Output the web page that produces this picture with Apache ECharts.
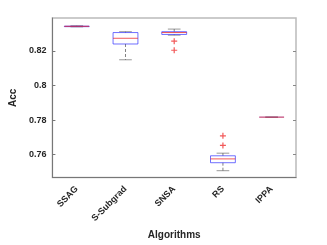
<!DOCTYPE html>
<html>
<head>
<meta charset="utf-8">
<script src="https://cdn.jsdelivr.net/npm/echarts@6/dist/echarts.min.js"></script>
<style>html,body{margin:0;padding:0;background:#fff}#c{width:327px;height:245px}</style>
</head>
<body>
<div id="c"></div>
<script>
var categories = ['SSAG', 'S-Subgrad', 'SNSA', 'RS', 'IPPA'];
var lowerWhisker = [0.8338, 0.8148, 0.8290, 0.7508, 0.7817];
var q1Values = [0.8339, 0.8239, 0.8294, 0.7554, 0.7817];
var medianValues = [0.8341, 0.8272, 0.8305, 0.7576, 0.7817];
var q3Values = [0.8342, 0.8305, 0.8310, 0.7594, 0.7817];
var upperWhisker = [0.8344, 0.8310, 0.8325, 0.7609, 0.7817];
var outlierCats = [2, 2, 3, 3];
var outlierValues = [0.8255, 0.8203, 0.7709, 0.7654];
var yTicks = [0.76, 0.78, 0.80, 0.82];
var yMin = 0.7468, yMax = 0.8389;

var boxData = categories.map(function (c, i) {
  return [i, lowerWhisker[i], q1Values[i], medianValues[i], q3Values[i], upperWhisker[i]];
});
var outlierData = outlierCats.map(function (c, i) { return [c, outlierValues[i]]; });

var FONT = 'Liberation Sans, Arial, sans-serif';
var chart = echarts.init(document.getElementById('c'), null, {renderer: 'canvas'});

function renderBox(params, api) {
  var i = api.value(0);
  var band = api.size([1, 0])[0];
  var half = band * 0.255;
  var cap = band * 0.13;
  var pLw = api.coord([i, api.value(1)]);
  var pQ1 = api.coord([i, api.value(2)]);
  var pMed = api.coord([i, api.value(3)]);
  var pQ3 = api.coord([i, api.value(4)]);
  var pUw = api.coord([i, api.value(5)]);
  var x = pMed[0];
  var dash = {stroke: '#555', lineWidth: 1, lineDash: [3, 2], opacity: 0.75};
  var capStyle = {stroke: '#555', lineWidth: 1, opacity: 0.6};
  var h = pQ1[1] - pQ3[1];
  var children = [
    {type: 'line', shape: {x1: x, y1: pUw[1], x2: x, y2: pQ3[1]}, style: dash},
    {type: 'line', shape: {x1: x, y1: pQ1[1], x2: x, y2: pLw[1]}, style: dash},
    {type: 'line', shape: {x1: x - cap, y1: pUw[1], x2: x + cap, y2: pUw[1]}, style: capStyle},
    {type: 'line', shape: {x1: x - cap, y1: pLw[1], x2: x + cap, y2: pLw[1]}, style: capStyle}
  ];
  if (h > 0.5) {
    children.push({type: 'rect', shape: {x: x - half, y: pQ3[1], width: 2 * half, height: h},
      style: {fill: 'none', stroke: '#3333ff', lineWidth: 1, opacity: 0.7}});
  } else {
    children.push({type: 'line', shape: {x1: x - half, y1: pQ3[1], x2: x + half, y2: pQ3[1]},
      style: {stroke: '#3333ff', lineWidth: 1, opacity: 0.5}});
  }
  children.push({type: 'line', shape: {x1: x - half, y1: pMed[1], x2: x + half, y2: pMed[1]},
    style: {stroke: '#ee2222', lineWidth: 1, opacity: 0.75}});
  return {type: 'group', children: children};
}

var plus = 'path://M4,0 L6,0 L6,4 L10,4 L10,6 L6,6 L6,10 L4,10 L4,6 L0,6 L0,4 L4,4 Z';

chart.setOption({
  animation: false,
  backgroundColor: '#fff',
  grid: {left: 42, right: 31, top: 18, bottom: 60, show: true, borderColor: '#bbbbbb', borderWidth: 1.5, backgroundColor: 'transparent'},
  xAxis: [{
    type: 'category', data: categories, boundaryGap: true,
    name: 'Algorithms', nameLocation: 'middle', nameGap: 52,
    nameTextStyle: {fontFamily: FONT, fontWeight: 'bold', fontSize: 10, color: '#262626'},
    axisLine: {lineStyle: {color: '#777', width: 1}},
    axisTick: {inside: true, alignWithLabel: true, length: 3, lineStyle: {color: '#777'}},
    axisLabel: {rotate: 45, fontFamily: FONT, fontWeight: 'bold', fontSize: 9, color: '#262626', margin: 10, interval: 0},
    splitLine: {show: false}
  }, {
    type: 'category', data: categories, position: 'top', boundaryGap: true,
    axisLine: {show: false},
    axisTick: {inside: true, alignWithLabel: true, length: 3, lineStyle: {color: '#888'}},
    axisLabel: {show: false}, splitLine: {show: false}
  }],
  yAxis: [{
    type: 'value', min: yMin, max: yMax,
    name: 'Acc', nameLocation: 'middle', nameGap: 29, nameRotate: 90,
    nameTextStyle: {fontFamily: FONT, fontWeight: 'bold', fontSize: 10, color: '#262626'},
    axisLine: {show: true, lineStyle: {color: '#777', width: 1}},
    axisTick: {show: true, inside: true, length: 3, customValues: yTicks, lineStyle: {color: '#777'}},
    axisLabel: {customValues: yTicks, fontFamily: FONT, fontWeight: 'bold', fontSize: 9, color: '#262626', margin: 6,
      formatter: function (v) { return String(+(+v).toFixed(2)); }},
    splitLine: {show: false}
  }, {
    type: 'value', min: yMin, max: yMax, position: 'right',
    axisLine: {show: false},
    axisTick: {show: true, inside: true, length: 3, customValues: yTicks, lineStyle: {color: '#888'}},
    axisLabel: {show: false}, splitLine: {show: false}
  }],
  series: [{
    type: 'custom', xAxisIndex: 0, yAxisIndex: 0,
    renderItem: renderBox, data: boxData,
    encode: {x: 0, y: [1, 2, 3, 4, 5]}, clip: false
  }, {
    type: 'scatter', xAxisIndex: 0, yAxisIndex: 0,
    data: outlierData, symbol: plus, symbolSize: 6,
    itemStyle: {color: '#ee2222', opacity: 0.75}
  }]
});
</script>
</body>
</html>
